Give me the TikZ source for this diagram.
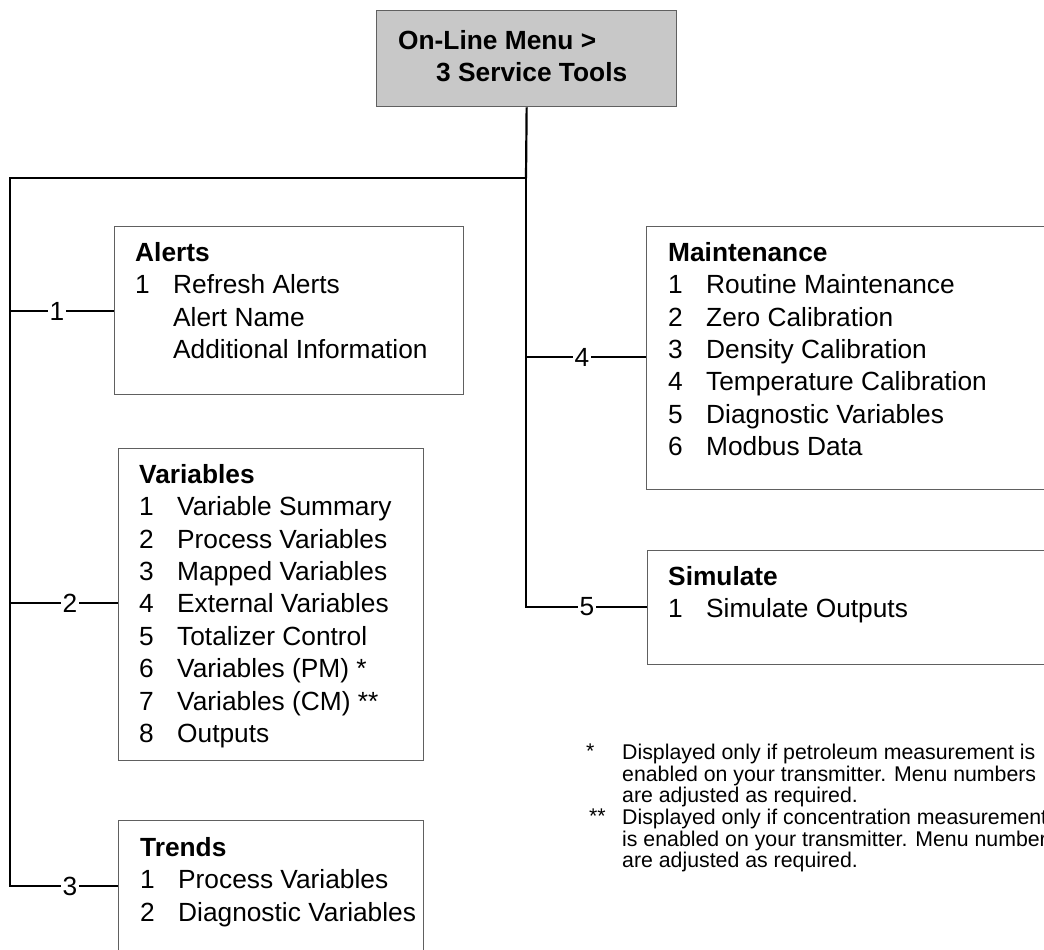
\documentclass[tikz,border=0pt]{standalone}
\usepackage{fontspec}
\setmainfont{Liberation Sans}
\newcommand\mainsz{\fontsize{26.3}{32.4}\selectfont}
\newcommand\fnsz{\fontsize{21.3}{21.6}\selectfont}
\newcommand\itm[2]{\makebox[38pt][l]{#1}#2}
\definecolor{boxgray}{RGB}{200,200,200}
\definecolor{edgegray}{RGB}{96,96,96}
\tikzset{
  menubox/.style={draw=edgegray, line width=1.3pt, anchor=north west, inner sep=0pt},
  menutext/.style={anchor=north west, inner sep=0pt, align=left, font=\mainsz},
  trunk/.style={line width=2.2pt, black},
  branch/.style={line width=1.2pt, black},
  num/.style={inner sep=1.5pt, font=\mainsz},
  fntext/.style={anchor=north west, inner sep=0pt, align=left, font=\fnsz},
}
\begin{document}
\begin{tikzpicture}[x=1pt,y=-1pt]
\useasboundingbox (0,0) rectangle (1044,950);
\clip (0,0) rectangle (1044,950);

% top box
\node[menubox, fill=boxgray, minimum width=300pt, minimum height=96pt] (top) at (376,10) {};
\node[menutext, font=\mainsz\bfseries] (toptxt) at (398,30) {On-Line Menu >\\\hspace*{38pt}3 Service Tools};

% boxes
\node[menubox, minimum width=349pt, minimum height=168pt] (alerts) at (114,226) {};
\node[menubox, minimum width=305pt, minimum height=312pt] (vars) at (118,448) {};
\node[menubox, minimum width=305pt, minimum height=160pt] (trends) at (118,820) {};
\node[menubox, minimum width=420pt, minimum height=263pt] (maint) at (646,226) {};
\node[menubox, minimum width=420pt, minimum height=114pt] (sim) at (647,550) {};

% texts
\node[menutext] (alertstxt) at (135,242) {\textbf{Alerts}\\\itm{1}{Refresh Alerts}\\\itm{}{Alert Name}\\\itm{}{Additional Information}};
\node[menutext] (varstxt) at (139,464) {\textbf{Variables}\\\itm{1}{Variable Summary}\\\itm{2}{Process Variables}\\\itm{3}{Mapped Variables}\\\itm{4}{External Variables}\\\itm{5}{Totalizer Control}\\\itm{6}{Variables (PM) *}\\\itm{7}{Variables (CM) **}\\\itm{8}{Outputs}};
\node[menutext] (trendstxt) at (140,837) {\textbf{Trends}\\\itm{1}{Process Variables}\\\itm{2}{Diagnostic Variables}};
\node[menutext] (mainttxt) at (668,242) {\textbf{Maintenance}\\\itm{1}{Routine Maintenance}\\\itm{2}{Zero Calibration}\\\itm{3}{Density Calibration}\\\itm{4}{Temperature Calibration}\\\itm{5}{Diagnostic Variables}\\\itm{6}{Modbus Data}};
\node[menutext] (simtxt) at (668,566) {\textbf{Simulate}\\\itm{1}{Simulate Outputs}};

% footnotes
\node[fntext] (star1) at (586,744) {*};
\node[fntext] (fn1) at (622,744) {Displayed only if petroleum measurement is\\enabled on your transmitter. Menu numbers\\are adjusted as required.};
\node[fntext] (star2) at (589,809) {**};
\node[fntext] (fn2) at (622,809) {Displayed only if concentration measurement\\is enabled on your transmitter. Menu numbers\\are adjusted as required.};

% tree
\coordinate (j1) at (526,178);
\coordinate (j0) at (10,178);
\node[num] (n1) at (57,311) {1};
\node[num] (n2) at (70,603) {2};
\node[num] (n3) at (70,886) {3};
\node[num] (n4) at (582,357) {4};
\node[num] (n5) at (587,607) {5};

\draw[trunk] (top.south) -- (j1);
\draw[trunk, line join=miter] (j1) -- (j0) |- (n3);
\draw[branch] (n3) -- (n3 -| trends.west);
\draw[trunk, line join=miter] (j1) |- (n5);
\draw[branch] (n5) -- (n5 -| sim.west);
\draw[branch] (j0 |- n1) -- (n1) -- (n1 -| alerts.west);
\draw[branch] (j0 |- n2) -- (n2) -- (n2 -| vars.west);
\draw[branch] (j1 |- n4) -- (n4) -- (n4 -| maint.west);
\end{tikzpicture}
\end{document}
